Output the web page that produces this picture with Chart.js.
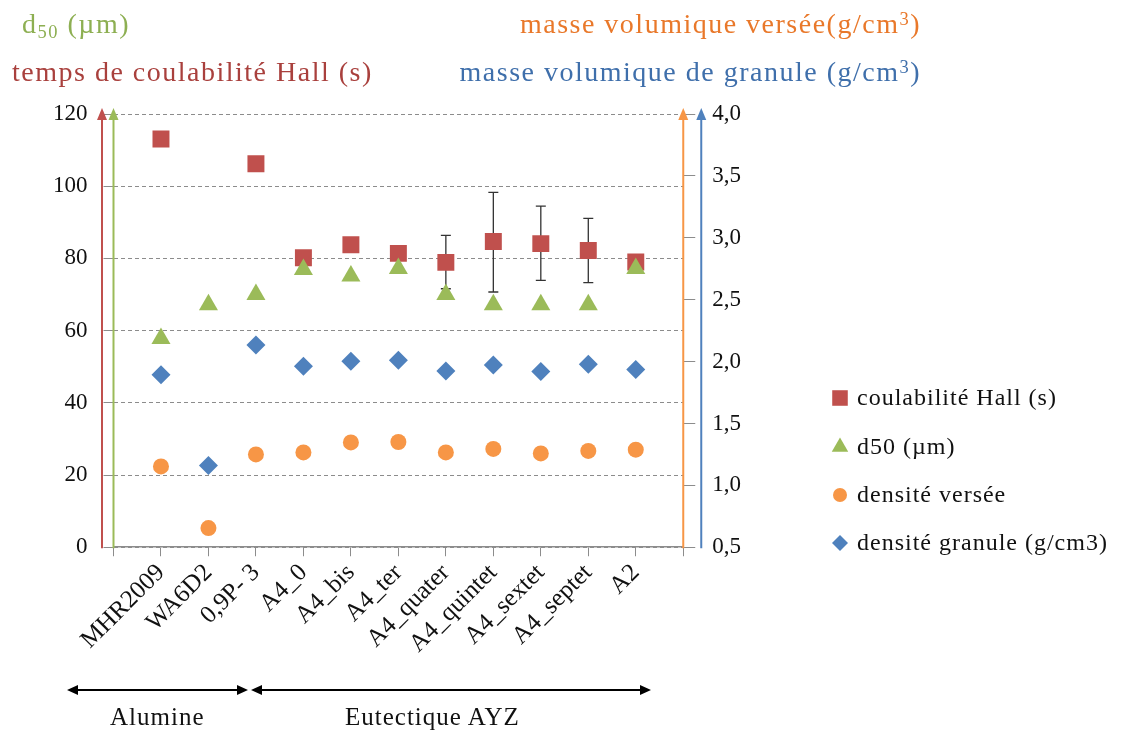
<!DOCTYPE html>
<html>
<head>
<meta charset="utf-8">
<script src="https://cdn.jsdelivr.net/npm/chart.js@4"></script>
<style>
  body { margin: 0; background: #fff; }
  #wrap { position: relative; width: 1125px; height: 731px; font-family: 'Liberation Serif', serif; }
  .lbl { position: absolute; white-space: nowrap; line-height: 1; }
  .ttl { font-size: 28px; letter-spacing: 1.5px; }
  .grp { font-size: 25px; letter-spacing: 1px; color: #111; }
  .lbl sub { font-size: 0.66em; vertical-align: -0.25em; line-height: 0; }
  .lbl sup { font-size: 0.66em; vertical-align: 0.45em; line-height: 0; }
</style>
</head>
<body>
<div id="wrap">
  <canvas id="chart" width="1125" height="731"></canvas>
  <div class="lbl ttl" style="left:22px;top:10px;color:#8daf52">d<sub>50</sub> (µm)</div>
  <div class="lbl ttl" style="left:12px;top:58px;color:#a9403d">temps de coulabilité Hall (s)</div>
  <div class="lbl ttl" style="right:204px;top:10px;color:#e9782a">masse volumique versée(g/cm<sup>3</sup>)</div>
  <div class="lbl ttl" style="right:204px;top:58px;color:#3f6fab">masse volumique de granule (g/cm<sup>3</sup>)</div>
  <div class="lbl grp" style="left:110px;top:704px">Alumine</div>
  <div class="lbl grp" style="left:345px;top:704px">Eutectique AYZ</div>
</div>
<script>
const categories = ['MHR2009', 'WA6D2', '0,9P- 3', 'A4_0', 'A4_bis', 'A4_ter', 'A4_quater', 'A4_quintet', 'A4_sextet', 'A4_septet', 'A2'];

// left axis (s, µm)
const hallTime = [113.1, null, 106.2, 80.2, 83.8, 81.4, 78.9, 84.7, 84.1, 82.2, 79.0];
const hallErrLow = [null, null, null, null, null, null, 71.6, 70.7, 73.9, 73.3, null];
const hallErrHigh = [null, null, null, null, null, null, 86.4, 98.3, 94.5, 91.1, null];
const d50 = [57.8, 67.2, 70.0, 76.9, 75.1, 77.2, 70.0, 67.2, 67.2, 67.2, 77.2];

// right axis (g/cm3)
const pouredDensity = [1.153, 0.655, 1.25, 1.266, 1.347, 1.35, 1.266, 1.294, 1.258, 1.278, 1.288];
const granuleDensity = [1.894, 1.161, 2.134, 1.962, 2.002, 2.01, 1.924, 1.973, 1.919, 1.978, 1.935];

const leftTicks = [0, 20, 40, 60, 80, 100, 120];
const rightTicks = [0.5, 1.0, 1.5, 2.0, 2.5, 3.0, 3.5, 4.0];

const RED = '#c0504d', GREEN = '#9bbb59', ORANGE = '#f79646', BLUE = '#4f81bd';
const FONT = 'Liberation Serif';

const series = [
  { label: 'coulabilité Hall (s)', data: hallTime, color: RED, style: 'rect', r: 12, lr: 11, axis: 'y', order: 1 },
  { label: 'd50 (µm)', data: d50, color: GREEN, style: 'triangle', r: 11, lr: 9.5, axis: 'y', order: 0 },
  { label: 'densité versée', data: pouredDensity, color: ORANGE, style: 'circle', r: 8, lr: 7, axis: 'y2', order: 3 },
  { label: 'densité granule (g/cm3)', data: granuleDensity, color: BLUE, style: 'rectRot', r: 9.5, lr: 8, axis: 'y2', order: 2 },
];

function arrowUp(ctx, x, yTop, yBottom, color) {
  ctx.strokeStyle = color;
  ctx.fillStyle = color;
  ctx.lineWidth = 2;
  ctx.beginPath();
  ctx.moveTo(x, yBottom);
  ctx.lineTo(x, yTop + 4);
  ctx.stroke();
  ctx.beginPath();
  ctx.moveTo(x, yTop - 6);
  ctx.lineTo(x - 5, yTop + 6);
  ctx.lineTo(x + 5, yTop + 6);
  ctx.closePath();
  ctx.fill();
}

function arrowBoth(ctx, x1, x2, y) {
  ctx.strokeStyle = '#000';
  ctx.fillStyle = '#000';
  ctx.lineWidth = 2;
  ctx.beginPath();
  ctx.moveTo(x1 + 6, y);
  ctx.lineTo(x2 - 6, y);
  ctx.stroke();
  ctx.beginPath();
  ctx.moveTo(x1, y); ctx.lineTo(x1 + 11, y - 5); ctx.lineTo(x1 + 11, y + 5); ctx.closePath();
  ctx.moveTo(x2, y); ctx.lineTo(x2 - 11, y - 5); ctx.lineTo(x2 - 11, y + 5); ctx.closePath();
  ctx.fill();
}

const decorations = {
  id: 'decorations',
  beforeDatasetsDraw(chart) {
    const { ctx, scales: { x, y } } = chart;
    ctx.save();
    ctx.strokeStyle = '#333';
    ctx.lineWidth = 1.3;
    hallErrLow.forEach((lo, i) => {
      if (lo == null) return;
      const px = x.getPixelForValue(i + 1);
      const top = y.getPixelForValue(hallErrHigh[i]);
      const bot = y.getPixelForValue(lo);
      ctx.beginPath();
      ctx.moveTo(px, top); ctx.lineTo(px, bot);
      ctx.moveTo(px - 5, top); ctx.lineTo(px + 5, top);
      ctx.moveTo(px - 5, bot); ctx.lineTo(px + 5, bot);
      ctx.stroke();
    });
    ctx.restore();
  },
  afterDraw(chart) {
    const { ctx, chartArea: a } = chart;
    ctx.save();
    // coloured axis arrows
    arrowUp(ctx, a.left - 11.5, a.top, a.bottom + 1, RED);
    arrowUp(ctx, a.left, a.top, a.bottom + 1, GREEN);
    arrowUp(ctx, a.right, a.top, a.bottom + 1, ORANGE);
    arrowUp(ctx, a.right + 18, a.top, a.bottom + 1, BLUE);

    // legend
    ctx.font = '24px ' + FONT;
    ctx.letterSpacing = '1px';
    ctx.textBaseline = 'middle';
    ctx.textAlign = 'left';
    const rows = [398, 447, 495, 543];
    series.forEach((s, i) => {
      ctx.fillStyle = s.color;
      Chart.helpers.drawPoint(ctx, { pointStyle: s.style, radius: s.lr, rotation: 0, borderWidth: 0 }, 840, rows[i]);
      ctx.fillStyle = '#111';
      ctx.fillText(s.label, 857, rows[i] + 1);
    });
    ctx.letterSpacing = '0px';

    // material groups
    arrowBoth(ctx, 67, 248, 690);
    arrowBoth(ctx, 251, 651, 690);
    ctx.restore();
  }
};

new Chart(document.getElementById('chart'), {
  type: 'line',
  data: {
    labels: ['', ...categories, ''],
    datasets: series.map((s) => ({
      label: s.label,
      data: [null, ...s.data, null],
      yAxisID: s.axis,
      order: s.order,
      showLine: false,
      pointStyle: s.style,
      pointRadius: s.r,
      pointHoverRadius: s.r,
      pointBackgroundColor: s.color,
      pointBorderColor: s.color,
      pointBorderWidth: 0,
      backgroundColor: s.color,
      borderColor: s.color,
    })),
  },
  options: {
    responsive: false,
    animation: false,
    events: [],
    layout: {
      padding: { left: 37, right: 367, top: 114, bottom: 70 },
    },
    scales: {
      x: {
        offset: false,
        grid: { drawOnChartArea: false, tickLength: 9, color: '#8c8c8c' },
        border: { display: true, color: '#8c8c8c', width: 1.5 },
        ticks: {
          autoSkip: false,
          minRotation: 45,
          maxRotation: 45,
          padding: 2,
          color: '#111',
          font: { family: FONT, size: 25 },
        },
      },
      y: {
        position: 'left',
        min: 0,
        max: 120,
        afterBuildTicks: (scale) => { scale.ticks = leftTicks.map((v) => ({ value: v })); },
        grid: { color: '#8c8c8c', tickLength: 10, tickColor: '#8c8c8c' },
        border: { display: false, dash: [4, 3] },
        ticks: {
          padding: 16,
          color: '#111',
          font: { family: FONT, size: 23 },
        },
      },
      y2: {
        position: 'right',
        min: 0.5,
        max: 4.0,
        afterBuildTicks: (scale) => { scale.ticks = rightTicks.map((v) => ({ value: v })); },
        grid: { drawOnChartArea: false, tickLength: 12, color: '#8c8c8c' },
        border: { display: false },
        ticks: {
          padding: 17,
          color: '#111',
          font: { family: FONT, size: 23 },
          callback: (v) => v.toFixed(1).replace('.', ','),
        },
      },
    },
    plugins: {
      legend: { display: false },
      tooltip: { enabled: false },
    },
  },
  plugins: [decorations],
});
</script>
</body>
</html>
